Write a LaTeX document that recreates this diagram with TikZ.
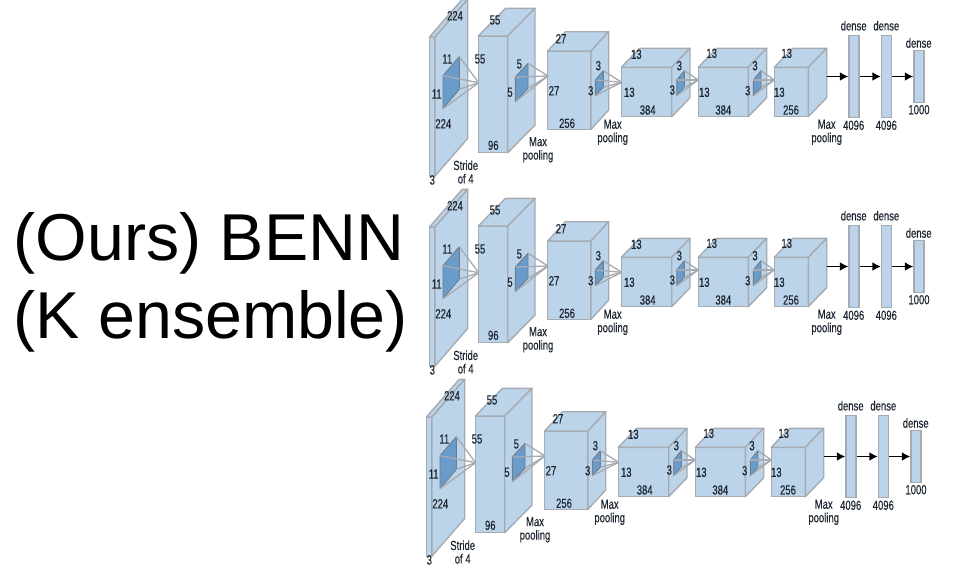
\documentclass[tikz,border=0pt]{standalone}
\usepackage{fontspec}
\setmainfont{Liberation Sans}
\newfontfamily\labfont[FakeStretch=0.72,FakeBold=0.25]{Liberation Sans}
\definecolor{facec}{HTML}{BCD4EA}
\definecolor{edgec}{HTML}{A6ABB1}
\definecolor{kernc}{HTML}{6A9CCB}
\definecolor{kedge}{HTML}{6F7C8A}
\definecolor{inkc}{HTML}{1C2530}
\newcommand{\cubeshape}[6]{% x1 y1 x2 y2 depthx depthy
  \draw[cube] (#1,#2) rectangle (#3,#4);
  \draw[cube] (#1,#2) -- ++(#5,#6) -- ++({#3-#1},0) -- (#3,#2) -- cycle;
  \draw[cube] (#3,#2) -- ++(#5,#6) -- ++(0,{#4-#2}) -- (#3,#4) -- cycle;
}
\newcommand{\kernelshape}[2]{% coordinate prefix, ray target
  \draw[kern] (#1a) -- (#1b) -- (#1c) -- (#1d) -- cycle;
  \foreach \q in {a,b,c,d}{\draw[ray] (#1\q) -- (#2);}
}
\usetikzlibrary{arrows.meta}
\tikzset{
  cube/.style={fill=facec,draw=edgec,line width=1.4pt,line join=round},
  kern/.style={fill=kernc,draw=kedge,line width=0.9pt,line join=round},
  ray/.style={draw=edgec,line width=1.3pt},
  lab/.style={font=\labfont\fontsize{13.2}{13.5}\selectfont,text=inkc,inner sep=0pt,align=center},
  densebox/.style={fill=facec,draw=edgec,line width=1.4pt,minimum width=10pt,inner sep=0pt},
  flow/.style={-{Latex[length=8.5pt,width=9pt]},line width=1.7pt,black},
  title/.style={font=\fontsize{66.3}{66.3}\selectfont,text=black,inner sep=0pt,anchor=base west}
}
\begin{document}
\begin{tikzpicture}[x=1pt,y=-1pt]
\useasboundingbox (0,0) rectangle (958,566);
\clip (0,0) rectangle (958,566);
\fill[white] (0,0) rectangle (958,566);
\node[title] (line1) at (13.5,260) {(Ours) BENN};
\node[title] (line2) at (13.5,338.3) {(K ensemble)};
\foreach \r/\dx/\dy in {a/0/0,b/0/190,c/-3/380}{
\begin{scope}[shift={(\dx,\dy)}]
  % layers
  \draw[cube] (429.5,37) rectangle (435,176);
  \draw[cube] (429.5,37) -- (462.2,-0.7) -- (467.7,-0.7) -- (435,37) -- cycle;
  \draw[cube] (435,37) -- (467.7,-0.7) -- (467.7,138.5) -- (435,176) -- cycle;
  \cubeshape{478.3}{36}{507.7}{152.7}{27.3}{-27.7}
  \cubeshape{547.7}{51}{591}{129.3}{17.7}{-19.3}
  \cubeshape{621.3}{67.3}{671.7}{116.7}{18.3}{-19}
  \cubeshape{698.3}{67.3}{748.3}{116.7}{18.4}{-19}
  \cubeshape{774.3}{67.3}{808.3}{116.7}{18.4}{-19}
  % targets of the kernel rays
  \coordinate (\r t1) at (478.7,82.7);
  \coordinate (\r t2) at (548,76);
  \coordinate (\r t3) at (621.7,82.3);
  \coordinate (\r t4) at (698.3,80);
  \coordinate (\r t5) at (774.3,80);
  \coordinate (\r out) at (826.7,76.5);
  % kernels
  \foreach \k/\ax/\ay/\bx/\by/\cx/\cy/\ex/\ey in {
    1/443/75.7/459.3/56.7/459.3/89.3/443/108.7,
    2/515.3/77/528/63.3/528/88.3/515.3/101.7,
    3/595.3/80/603.3/70.7/603.3/87.3/595.3/95.7,
    4/676.7/80/684.3/70.7/684.3/87.3/676.7/95.7,
    5/753.3/80/761/70.7/761/87.3/753.3/95.7}{
    \coordinate (\r k\k a) at (\ax,\ay);
    \coordinate (\r k\k b) at (\bx,\by);
    \coordinate (\r k\k c) at (\cx,\cy);
    \coordinate (\r k\k d) at (\ex,\ey);
    \kernelshape{\r k\k}{\r t\k}
  }
  % dense layers
  \node[densebox,minimum height=81.6pt] (\r d1) at (854,76.5) {};
  \node[densebox,minimum height=81.6pt] (\r d2) at (886.5,76.5) {};
  \node[densebox,minimum height=51.6pt] (\r d3) at (919,76.5) {};
  \draw[flow] (\r out) -- (\r d1);
  \draw[flow] (\r d1) -- (\r d2);
  \draw[flow] (\r d2) -- (\r d3);
  % labels
  \foreach \x/\y/\t [count=\i] in {
    455/15.7/224, 447.3/59/11, 436.7/94/11, 443.3/123.7/224, 432.3/180/3,
    465.7/172/{Stride\\of 4},
    495/20/55, 480/59/55, 519.3/64/5, 510/92.3/5, 493.3/145.3/96,
    538/149.7/{Max\\pooling},
    561/38.7/27, 554/90.7/27, 598.3/65.7/3, 590.7/90.7/3, 567/123.3/256,
    612.7/132.3/{Max\\pooling},
    636.3/54.3/13, 629.3/92.3/13, 647.7/110/384, 679.3/65.7/3, 672.3/90/3,
    711.7/53.3/13, 704.3/92.3/13, 723.3/110/384, 755/65.7/3, 747.7/90.7/3,
    786.7/53.3/13, 779.3/92.3/13, 791/110/256,
    826.7/132.3/{Max\\pooling},
    853.7/25.7/dense, 886.3/25.7/dense, 918.7/43/dense,
    853.7/125.3/4096, 886.3/125.3/4096, 919/109.7/1000}{
    \node[lab] (\r l\i) at (\x,\y) {\t};
  }
\end{scope}
}
\end{tikzpicture}
\end{document}
